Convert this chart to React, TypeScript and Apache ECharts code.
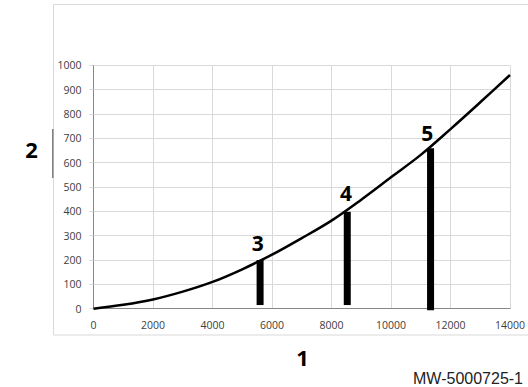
import React, { useEffect, useRef } from "react";
import * as echarts from "echarts";

const curveX = [0, 1000, 2000, 3000, 4000, 5000, 6000, 7000, 8000, 9000, 10000, 11000, 12000, 13000, 14000];
const curveY = [0, 16, 38, 70, 110, 162, 222, 290, 362, 448, 540, 632, 738, 848, 960];

const barX = [5600, 8530, 11330];
const barBottom = [15, 15, -6];
const barTop = [200, 398, 659];

const pointLabels = ["3", "4", "5"];
const labelX = [5520, 8490, 11220];
const labelY = [271, 474, 723];

const xTicks = { min: 0, max: 14000, interval: 2000 };
const yTicks = { min: 0, max: 1000, interval: 100 };

export default function App() {
  const ref = useRef<HTMLDivElement>(null);
  useEffect(() => {
    if (!ref.current) return;
    const chart = echarts.init(ref.current, null, { renderer: "svg" });
    const font = "'Open Sans', 'Liberation Sans', sans-serif";
    const series: any[] = [
      {
        type: "line",
        data: curveX.map((x, i) => [x, curveY[i]]),
        smooth: 0.35,
        symbol: "none",
        lineStyle: { color: "#000", width: 2.5 },
        z: 3,
      },
      ...barX.map((x, i) => ({
        type: "line",
        data: [
          [x, barBottom[i]],
          [x, barTop[i]],
        ],
        symbol: "none",
        clip: false,
        lineStyle: { color: "#000", width: 7, cap: "butt" },
        z: 4,
      })),
    ];
    const plain = (v: number) => String(v);
    const staticGraphics: any[] = [
      {
        type: "rect",
        shape: { x: 53.5, y: 4.5, width: 480, height: 330.5 },
        style: { fill: "none", stroke: "#d9d9d9", lineWidth: 1 },
        z: -1,
      },
      {
        type: "line",
        shape: { x1: 52.8, y1: 129, x2: 52.8, y2: 178 },
        style: { stroke: "#7f7f7f", lineWidth: 1.5 },
      },
      {
        type: "text",
        x: 31.5,
        y: 149,
        style: {
          text: "2",
          fontSize: 22,
          fontWeight: "bold",
          fill: "#000",
          fontFamily: font,
          align: "center",
          verticalAlign: "middle",
        },
      },
      {
        type: "text",
        x: 302.5,
        y: 357,
        style: {
          text: "1",
          fontSize: 22,
          fontWeight: "bold",
          fill: "#000",
          fontFamily: font,
          align: "center",
          verticalAlign: "middle",
        },
      },
      {
        type: "text",
        x: 523,
        y: 378,
        style: {
          text: "MW-5000725-1",
          fontSize: 16,
          fill: "#222",
          fontFamily: "'Liberation Sans', Arial, sans-serif",
          align: "right",
          verticalAlign: "middle",
        },
      },
    ];
    chart.setOption({
      animation: false,
      grid: { left: 93.5, right: 14.5, top: 65.3, bottom: 78.3, containLabel: false },
      xAxis: {
        type: "value",
        ...xTicks,
        axisLine: { show: true, lineStyle: { color: "#868686", width: 1 } },
        axisTick: { show: false },
        splitLine: { show: true, lineStyle: { color: "#d9d9d9", width: 1 } },
        axisLabel: { color: "#404040", fontSize: 10.5, margin: 11, fontFamily: font, formatter: plain },
      },
      yAxis: {
        type: "value",
        ...yTicks,
        axisLine: { show: true, lineStyle: { color: "#868686", width: 1 } },
        axisTick: { show: true, length: 4, lineStyle: { color: "#d9d9d9" } },
        splitLine: { show: true, lineStyle: { color: "#d9d9d9", width: 1 } },
        axisLabel: { color: "#404040", fontSize: 10.5, margin: 12, fontFamily: font, formatter: plain },
      },
      graphic: staticGraphics,
      series,
    });
    const labelGraphics = pointLabels.map((t, i) => {
      const [px, py] = chart.convertToPixel({ gridIndex: 0 }, [labelX[i], labelY[i]]) as number[];
      return {
        type: "text",
        x: px,
        y: py,
        z: 10,
        style: {
          text: t,
          fontSize: 21,
          fontWeight: "bold",
          fill: "#000",
          fontFamily: font,
          align: "center",
          verticalAlign: "middle",
        },
      };
    });
    chart.setOption({ graphic: [...staticGraphics, ...labelGraphics] });
    return () => chart.dispose();
  }, []);
  return (
    <div
      ref={ref}
      style={{ position: "fixed", left: 0, top: 0, width: 528, height: 387, background: "#fff" }}
    />
  );
}
